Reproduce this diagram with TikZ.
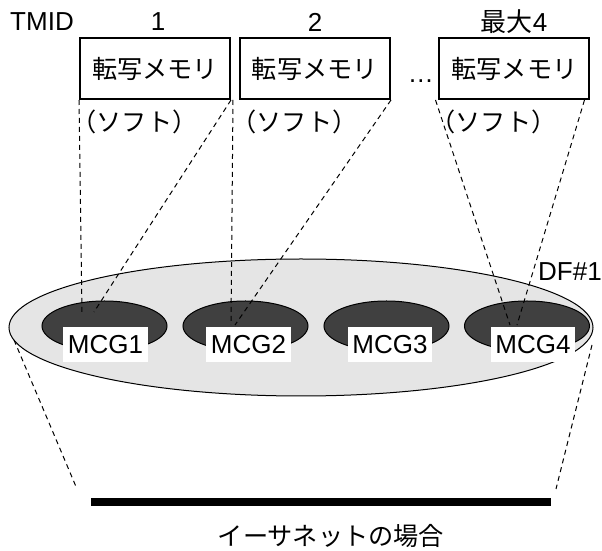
\documentclass[tikz,border=0pt]{standalone}
\usepackage{fontspec}
\setmainfont{Liberation Sans}
\newfontfamily\jpfont{Noto Sans CJK JP}
\usetikzlibrary{calc,shapes.geometric}

\tikzset{
  jp/.style={font=\fontsize{12.6}{15}\selectfont\jpfont},
  membox/.style={jp, draw, line width=1pt, minimum width=75pt, minimum height=30.5pt, inner sep=0pt},
  mcgdisk/.style={ellipse, draw, line width=0.5pt, fill=black!75, minimum width=62.5pt, minimum height=25pt, inner sep=0pt},
  mcglabel/.style={fill=white, inner xsep=2.4pt, inner ysep=0pt, minimum height=17.5pt},
  guide/.style={line width=0.5pt, dash pattern=on 2.5pt off 2pt}
}

\begin{document}
\begin{tikzpicture}[x=0.5pt, y=-0.5pt, font=\fontsize{13}{15.5}\selectfont]
    \useasboundingbox (0,0) rectangle (602,551);
    % TMID row
    \node (tmid) at (42,22) {TMID};
    \node (id1) at (158,22) {1};
    \node (id2) at (315,22) {2};
    \node (id4) at (514,22) {{\jpfont 最大}4};
    % memory boxes
    \foreach \i/\x in {1/155, 2/315, 3/514.5}
        \node[membox] (mem\i) at (\x,68.5) {転写メモリ};
    \foreach \i/\x in {1/134.5, 2/294.5, 3/493.5}
        \node[jp] (soft\i) at (\x,122) {（ソフト）};
    \node[anchor=base] (dots) at (421,83) {…};
    % DF and MCGs
    \node[ellipse, draw, line width=0.5pt, fill=black!10, minimum width=292pt, minimum height=68.5pt, inner sep=0pt] (df) at (301,327.5) {};
    \node (dflabel) at (570,272) {DF\#1};
    \foreach \i/\x/\lx in {1/104.5/105.5, 2/245.5/248.5, 3/386.5/390, 4/527/533}{
        \node[mcgdisk] (mcg\i) at (\x,326) {};
        \node[mcglabel] (lbl\i) at (\lx,344.5) {MCG\i};
    }
    \coordinate (m1a) at (82,312);
    \coordinate (m1b) at (94,312);
    \coordinate (m2a) at (231,325);
    \coordinate (m2b) at (235,325);
    \coordinate (m4a) at (510,325);
    \coordinate (m4b) at (517,325);
    \coordinate (dfl) at (14,340);
    \coordinate (dfr) at (592,345);
    \coordinate (busl) at (77,489);
    \coordinate (busr) at (556,489);
    \draw[guide] (mem1.south west) -- (m1a) (mem1.south east) -- (m1b);
    \draw[guide] ($(mem2.south west)+(-6,0)$) -- (m2a) (mem2.south east) -- (m2b);
    \draw[guide] ($(mem3.south west)+(-3,0)$) -- (m4a) ($(mem3.south east)+(-6,0)$) -- (m4b);
    \draw[guide] (dfl) -- (busl) (dfr) -- (busr);
    % ethernet
    \node[fill=black, minimum width=230pt, minimum height=4pt, inner sep=0pt] (bus) at (321,502) {};
    \node[jp] (caption) at (331,536) {イーサネットの場合};
\end{tikzpicture}
\end{document}
